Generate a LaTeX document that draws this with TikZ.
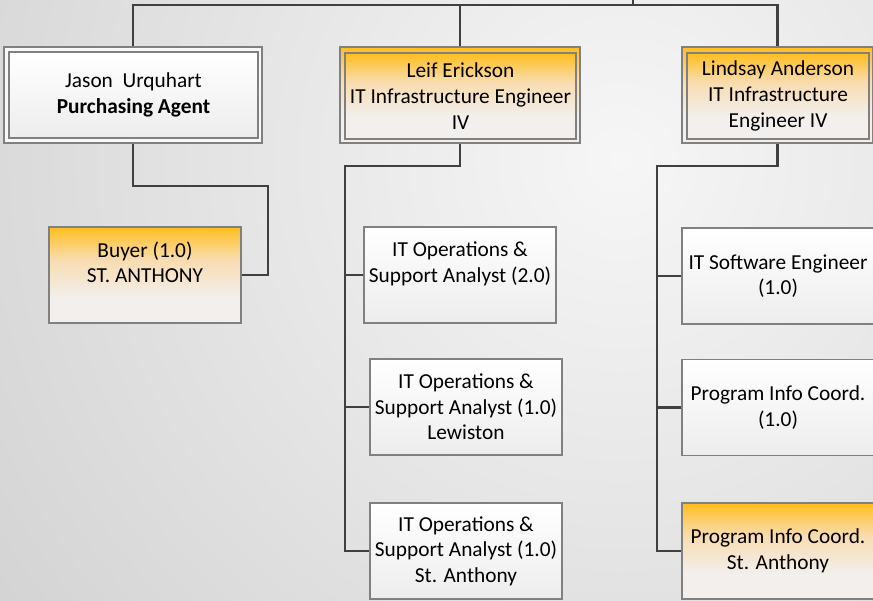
\documentclass[tikz,border=0pt]{standalone}
\usepackage{fontspec}
\setmainfont{Carlito}
\usetikzlibrary{calc}

\definecolor{otop}{HTML}{FFBE1E}
\definecolor{omid}{HTML}{F8DCB0}
\definecolor{obot}{HTML}{F2EFED}
\definecolor{wtop}{HTML}{FFFFFF}
\definecolor{wbot}{HTML}{EDEDED}
\definecolor{edge}{HTML}{808080}
\definecolor{wire}{HTML}{404040}
\definecolor{bgin}{HTML}{F6F6F6}
\definecolor{bgout}{HTML}{D2D2D2}

% box fills: colours listed bottom to top
\pgfdeclareverticalshading{orangefill}{100bp}{color(0bp)=(obot); color(25bp)=(obot); color(38bp)=(obot); color(58bp)=(omid); color(75bp)=(otop); color(100bp)=(otop)}
\pgfdeclareverticalshading{whitefill}{100bp}{color(0bp)=(wbot); color(25bp)=(wbot); color(75bp)=(wtop); color(100bp)=(wtop)}

\newcommand{\blankline}{\rule{0pt}{0pt}}

\tikzset{
  txt/.style={font=\fontsize{21.33pt}{25.6pt}\selectfont, align=center, inner sep=0pt},
  box/.style={txt, draw=edge, line width=1.3pt, minimum width=192pt, minimum height=96pt},
  orangebox/.style={box, shade, shading=orangefill},
  whitebox/.style={box, shade, shading=whitefill},
  mgrframe/.style={draw=edge, line width=1.1pt, inner sep=0pt, minimum height=96pt},
  mgrinner/.style={txt, draw=edge, line width=1.3pt, minimum height=86pt},
  conn/.style={draw=wire, line width=2.5pt},
}

\begin{document}
\begin{tikzpicture}[x=1pt, y=-1pt]
  \useasboundingbox (0,0) rectangle (873,600);

  % backdrop
  \fill[bgout] (0,0) rectangle (873,600);
  \begin{scope}
    \clip (0,0) rectangle (873,600);
    \shade[inner color=bgin, outer color=bgout] (620,160) circle (800pt);
  \end{scope}

  % managers: outer frame plus inner card
  \node[mgrframe, minimum width=258pt, fill=wtop!60!wbot] (jasonF) at (133,95) {};
  \node[mgrinner, minimum width=249pt, shade, shading=whitefill] (jason) at (133.5,95)
    {Jason\ \ Urquhart\\ \textbf{Purchasing Agent}};

  \node[mgrframe, minimum width=240pt, shade, shading=orangefill] (leifF) at (460,95) {};
  \node[mgrinner, minimum width=231pt, shade, shading=orangefill] (leif) at (460.5,96)
    {Leif Erickson\\ IT Infrastructure Engineer\\ IV};

  \node[mgrframe, minimum width=191pt, shade, shading=orangefill] (lindF) at (777.5,95) {};
  \node[mgrinner, minimum width=182pt, shade, shading=orangefill] (lind) at (778,96)
    {Lindsay Anderson\\ IT Infrastructure\\ Engineer IV};

  % staff
  \node[orangebox] (buyer) at (145,275) {Buyer (1.0)\\ ST. ANTHONY\\ \blankline};

  \node[whitebox] (m1) at (460,275) {IT Operations \&\\ Support Analyst (2.0)\\ \blankline};
  \node[whitebox] (m2) at (466,407) {IT Operations \&\\ Support Analyst (1.0)\\ Lewiston};
  \node[whitebox] (m3) at (466,551) {IT Operations \&\\ Support Analyst (1.0)\\ St. Anthony};

  \node[whitebox] (r1) at (778,276) {IT Software Engineer\\ (1.0)};
  \node[whitebox] (r2) at (778,407.5) {Program Info Coord.\\ (1.0)};
  \node[orangebox] (r3) at (778,551) {Program Info Coord.\\ St. Anthony};

  % reporting lines
  \coordinate (root) at (633,0);
  \coordinate (bus) at (633,5);
  \draw[conn] (root) -- (bus);
  \draw[conn] (jasonF.north) |- (lindF.north |- bus) -- (lindF.north);
  \draw[conn] (leifF.north |- bus) -- (leifF.north);

  \coordinate (jb) at (268,186);
  \draw[conn] (jasonF.south) |- (jb) |- (buyer.east);

  \coordinate (lb) at (345,166);
  \draw[conn] (leifF.south) |- (lb) |- (m3.west);
  \draw[conn] (lb |- m1.west) -- (m1.west);
  \draw[conn] (lb |- m2.west) -- (m2.west);

  \coordinate (rb) at (657,166);
  \draw[conn] (lindF.south) |- (rb) |- (r3.west);
  \draw[conn] (rb |- r1.west) -- (r1.west);
  \draw[conn] (rb |- r2.west) -- (r2.west);
\end{tikzpicture}
\end{document}
